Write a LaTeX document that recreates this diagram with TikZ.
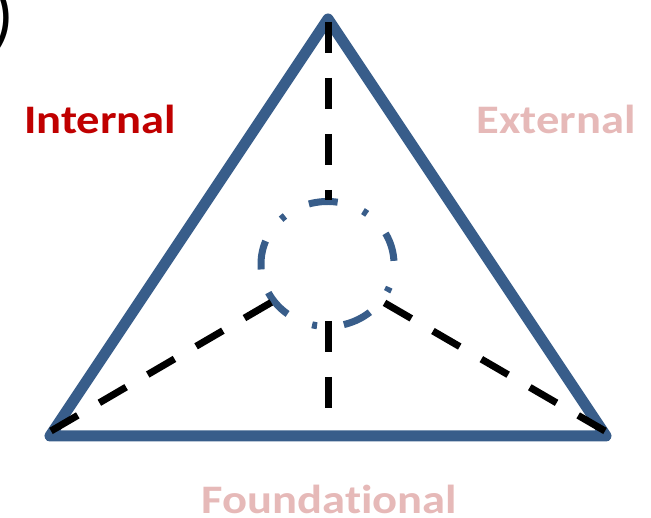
\documentclass[tikz,border=0pt]{standalone}
\usepackage{fontspec}
\setmainfont{Carlito}[Ligatures=NoCommon]
\definecolor{triblue}{HTML}{385D8A}
\definecolor{intred}{HTML}{C00000}
\definecolor{softpink}{HTML}{E6B9B8}
\newcommand{\widetext}[1]{\scalebox{1.15}[1]{#1}}
\begin{document}
\begin{tikzpicture}[x=1pt,y=1pt,
  edge/.style={draw=triblue,line width=11pt,line join=round,line cap=round},
  ring/.style={draw=triblue,line width=7pt,dash pattern=on 29pt off 27pt on 5pt off 27pt},
  spoke/.style={draw=black,line width=7pt,dash pattern=on 31pt off 25pt},
  lbl/.style={inner sep=0pt,anchor=base west,font=\bfseries\fontsize{40.5}{40.5}\selectfont}]
\useasboundingbox (0,0) rectangle (651,518);
\coordinate (A) at (328,499);
\coordinate (B) at (50,82);
\coordinate (C) at (606,82);
\draw[edge] (A) -- (B) -- (C) -- cycle;
\coordinate (ringstart) at (261.25,248.55);
\draw[ring] (ringstart) arc[start angle=185,end angle=-175,x radius=66.5,y radius=62.5];
\coordinate (t1) at (328,496);
\coordinate (t2) at (328,318);
\coordinate (l1) at (51,87);
\coordinate (l2) at (272,216);
\coordinate (r1) at (605,87);
\coordinate (r2) at (383,216);
\coordinate (b1) at (328,197);
\coordinate (b2) at (328,88);
\draw[spoke] (t1) -- (t2);
\draw[spoke] (l1) -- (l2);
\draw[spoke] (r1) -- (r2);
\draw[spoke] (b1) -- (b2);
\node[lbl,text=intred] (int) at (24,384.7) {\widetext{Internal}};
\node[lbl,text=softpink] (ext) at (476.5,384.7) {\widetext{External}};
\node[lbl,text=softpink] (fnd) at (201.5,4.7) {\widetext{Foundational}};
\node[inner sep=0pt,anchor=base east,font=\fontsize{72}{72}\selectfont] (par) at (15,478) {)};
\end{tikzpicture}
\end{document}
